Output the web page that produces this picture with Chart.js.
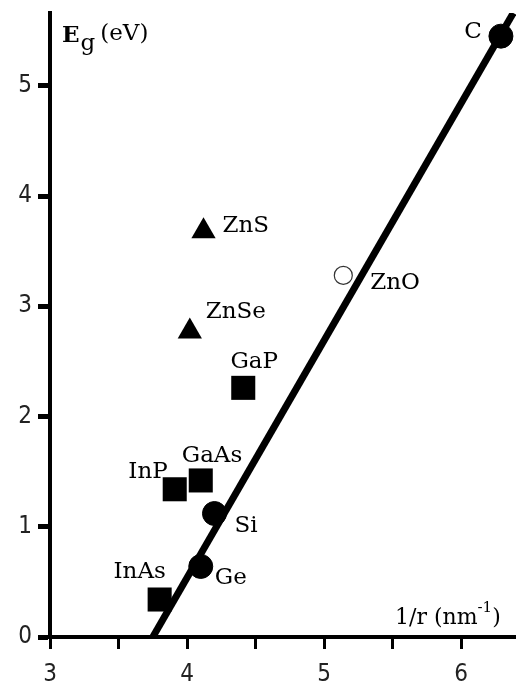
<!DOCTYPE html>
<html>
<head>
<meta charset="utf-8">
<script src="https://cdn.jsdelivr.net/npm/chart.js@4/dist/chart.umd.min.js"></script>
<style>
html,body{margin:0;padding:0;background:#fff;}
#wrap{width:516px;height:684px;position:relative;}
</style>
</head>
<body>
<div id="wrap"><canvas id="c" width="516" height="684"></canvas></div>
<script>
// ---- data ----
const squareNames = ['InAs', 'InP', 'GaAs', 'GaP'];
const squareX = [3.80, 3.91, 4.10, 4.41];
const squareY = [0.34, 1.34, 1.42, 2.26];

const circleNames = ['Ge', 'Si', 'C'];
const circleX = [4.10, 4.20, 6.29];
const circleY = [0.64, 1.12, 5.45];

const triangleNames = ['ZnSe', 'ZnS'];
const triangleX = [4.02, 4.12];
const triangleY = [2.77, 3.68];

const openNames = ['ZnO'];
const openX = [5.14];
const openY = [3.28];

const fitX = [3.75, 6.38];
const fitY = [0, 5.66];

const xTicks = [3, 3.5, 4, 4.5, 5, 5.5, 6];
const yTicks = [0, 1, 2, 3, 4, 5];

const xTitle = '1/r (nm';
const xTitleSup = '-1';
const yTitleMain = 'E';
const yTitleSub = 'g';
const yTitleUnit = '(eV)';

// ---- label placement (pixel offsets from the marker) ----
const labelPlacement = {
  'C':    {dx: -19, dy: -4,  align: 'right'},
  'ZnS':  {dx: 19,  dy: -5,  align: 'left'},
  'ZnSe': {dx: 16,  dy: -20, align: 'left'},
  'GaP':  {dx: 11,  dy: -26, align: 'center'},
  'ZnO':  {dx: 27,  dy: 8,   align: 'left'},
  'GaAs': {dx: -19, dy: -24, align: 'left'},
  'InP':  {dx: -7,  dy: -17, align: 'right'},
  'Si':   {dx: 20,  dy: 13,  align: 'left'},
  'Ge':   {dx: 14,  dy: 12,  align: 'left'},
  'InAs': {dx: -20, dy: -27, align: 'center'}
};

const SERIF = '"DejaVu Serif", "Liberation Serif", serif';
const TICKFONT = '"Liberation Sans Narrow", "DejaVu Sans Condensed", "DejaVu Sans", sans-serif';

function pts(xs, ys) { return xs.map((x, i) => ({x: x, y: ys[i]})); }

const labelPlugin = {
  id: 'labels',
  afterDatasetsDraw(chart) {
    const ctx = chart.ctx;
    const xs = chart.scales.x, ys = chart.scales.y;
    ctx.save();
    ctx.fillStyle = '#000';
    ctx.font = '23px ' + SERIF;
    ctx.textBaseline = 'middle';
    const groups = [[squareNames, squareX, squareY], [circleNames, circleX, circleY],
                    [triangleNames, triangleX, triangleY], [openNames, openX, openY]];
    groups.forEach(([names, gx, gy]) => {
      names.forEach((n, i) => {
        const p = labelPlacement[n];
        const px = xs.getPixelForValue(gx[i]);
        const py = ys.getPixelForValue(gy[i]);
        ctx.textAlign = p.align;
        ctx.fillText(n, px + p.dx, py + p.dy);
      });
    });
    // axis titles
    const ca = chart.chartArea;
    ctx.textAlign = 'left';
    ctx.textBaseline = 'alphabetic';
    ctx.font = '22px ' + SERIF;
    let x0 = ca.right - 121, yb = ca.bottom - 13;
    ctx.fillText(xTitle, x0, yb);
    let w = ctx.measureText(xTitle).width;
    ctx.font = '15px ' + SERIF;
    ctx.fillText(xTitleSup, x0 + w, yb - 12);
    let w2 = ctx.measureText(xTitleSup).width;
    ctx.font = '22px ' + SERIF;
    ctx.fillText(')', x0 + w + w2, yb);

    let ex = ca.left + 12, ey = ca.top + 29;
    ctx.font = 'bold 23px ' + SERIF;
    ctx.fillText(yTitleMain, ex, ey);
    let we = ctx.measureText(yTitleMain).width;
    ctx.font = '23px ' + SERIF;
    ctx.fillText(yTitleSub, ex + we + 1, ey + 8);
    let wg = ctx.measureText(yTitleSub).width;
    ctx.fillText(yTitleUnit, ex + we + wg + 6, ey - 2);
    ctx.restore();
  }
};

new Chart(document.getElementById('c'), {
  type: 'scatter',
  data: {
    datasets: [
      {label: 'circles', data: pts(circleX, circleY), pointStyle: 'circle', pointRadius: 12,
       backgroundColor: '#000', borderColor: '#000', borderWidth: 1, order: 1},
      {label: 'squares', data: pts(squareX, squareY), pointStyle: 'rect', pointRadius: 17,
       backgroundColor: '#000', borderColor: '#000', borderWidth: 0, order: 1},
      {label: 'triangles', data: pts(triangleX, triangleY), pointStyle: 'triangle', pointRadius: 14,
       backgroundColor: '#000', borderColor: '#000', borderWidth: 0, order: 1},
      {label: 'open', data: pts(openX, openY), pointStyle: 'circle', pointRadius: 9,
       backgroundColor: '#fff', borderColor: '#333', borderWidth: 1.2, order: 1},
      {label: 'fit', data: pts(fitX, fitY), showLine: true, pointRadius: 0, borderWidth: 7,
       borderColor: '#000', backgroundColor: '#000', order: 5}
    ]
  },
  options: {
    responsive: false,
    animation: false,
    layout: {autoPadding: false, padding: {top: 13, right: 0, left: 0, bottom: 0}},
    plugins: {legend: {display: false}, tooltip: {enabled: false}},
    scales: {
      x: {
        type: 'linear', min: 3, max: 6.4,
        afterBuildTicks: s => { s.ticks = xTicks.map(v => ({value: v})); },
        afterFit: s => { s.height = 47; s.paddingLeft = 0; s.paddingRight = 0; },
        border: {display: true, color: '#000', width: 4},
        grid: {drawOnChartArea: false, drawTicks: true, tickLength: 12, tickWidth: 3, tickColor: '#000'},
        ticks: {
          autoSkip: false, maxRotation: 0, padding: 11, color: '#222',
          font: {family: TICKFONT, size: 24},
          callback: v => (Number.isInteger(v) ? String(v) : '')
        }
      },
      y: {
        type: 'linear', min: 0, max: 5.66,
        afterBuildTicks: s => { s.ticks = yTicks.map(v => ({value: v})); },
        afterFit: s => { s.width = 50; s.paddingTop = 0; s.paddingBottom = 0; },
        border: {display: true, color: '#000', width: 4},
        grid: {drawOnChartArea: false, drawTicks: true, tickLength: 12, tickWidth: 5, tickColor: '#000'},
        ticks: {
          padding: 6, color: '#222',
          font: {family: TICKFONT, size: 24},
          callback: v => String(v)
        }
      }
    }
  },
  plugins: [labelPlugin]
});
</script>
</body>
</html>
